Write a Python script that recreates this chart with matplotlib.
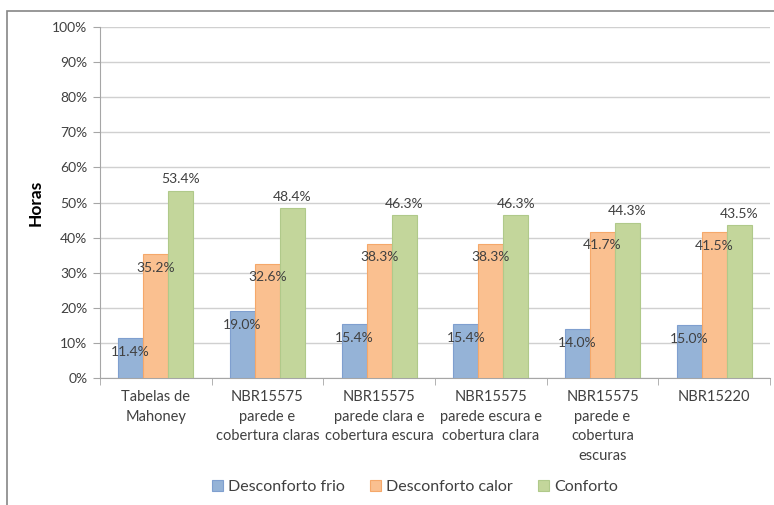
import matplotlib.pyplot as plt
import numpy as np
from matplotlib.patches import Rectangle

plt.rcParams['font.family'] = ['Lato', 'DejaVu Sans']

categories = ['Tabelas de\nMahoney', 'NBR15575\nparede e\ncobertura claras',
              'NBR15575\nparede clara e\ncobertura escura', 'NBR15575\nparede escura e\ncobertura clara',
              'NBR15575\nparede e\ncobertura\nescuras', 'NBR15220']
frio = [11.4, 19.0, 15.4, 15.4, 14.0, 15.0]
calor = [35.2, 32.6, 38.3, 38.3, 41.7, 41.5]
conforto = [53.4, 48.4, 46.3, 46.3, 44.3, 43.5]
series_names = ['Desconforto frio', 'Desconforto calor', 'Conforto']

fig = plt.figure(figsize=(7.74, 5.05), dpi=100)
ax = fig.add_axes([0.129, 0.2515, 0.866, 0.695])

# outer chart border
fig.patches.append(Rectangle((7/774, -0.1), 1.2, 1.078, transform=fig.transFigure,
                             fill=False, edgecolor='#868686', lw=1.2))

x = np.arange(len(categories))
w = 0.224
faces = ['#95b3d7', '#fac090', '#c3d69b']
edges = ['#7f9fcf', '#f5a86a', '#b0c98a']
txt = '#404040'

for i, (vals, name) in enumerate(zip([frio, calor, conforto], series_names)):
    pos = x + (i - 1) * w
    ax.bar(pos, vals, w, color=faces[i], edgecolor=edges[i], lw=0.8, label=name, zorder=3)
    for p, v in zip(pos, vals):
        if i < 2:
            ax.text(p, v - 2.2, f'{v:.1f}%', ha='center', va='top', fontsize=10, color=txt, zorder=4)
        else:
            ax.text(p, v + 1.6, f'{v:.1f}%', ha='center', va='bottom', fontsize=10, color=txt, zorder=4)

ax.set_ylim(0, 100)
ax.set_xlim(-0.5, len(categories) - 0.5)
ax.set_yticks(range(0, 101, 10))
ax.set_yticklabels([f'{t}%' for t in range(0, 101, 10)], fontsize=10, color=txt)
ax.yaxis.grid(True, color='#d0d0d0', lw=1, zorder=0)
ax.set_axisbelow(True)

ax.set_xticks(x)
ax.set_xticklabels(categories, fontsize=10.5, color=txt, linespacing=1.5)
ax.tick_params(axis='x', length=0, pad=9)
ax.set_xticks(np.arange(-0.5, len(categories)), minor=True)
ax.tick_params(axis='x', which='minor', length=5, color='#a6a6a6')
ax.tick_params(axis='y', length=5, color='#a6a6a6', pad=4)

for s in ['top', 'right']:
    ax.spines[s].set_visible(False)
ax.spines['left'].set_color('#a6a6a6')
ax.spines['bottom'].set_color('#a6a6a6')

ax.set_ylabel('Horas', fontsize=12.5, fontweight='bold', color='black', labelpad=6)

ax.legend(loc='center', bbox_to_anchor=(0.47, -0.31), ncol=3, frameon=False,
          fontsize=11.5, handlelength=0.7, handleheight=0.7, handletextpad=0.3, columnspacing=1.6,
          labelcolor=txt)

fig.savefig('out.png', dpi=100)
